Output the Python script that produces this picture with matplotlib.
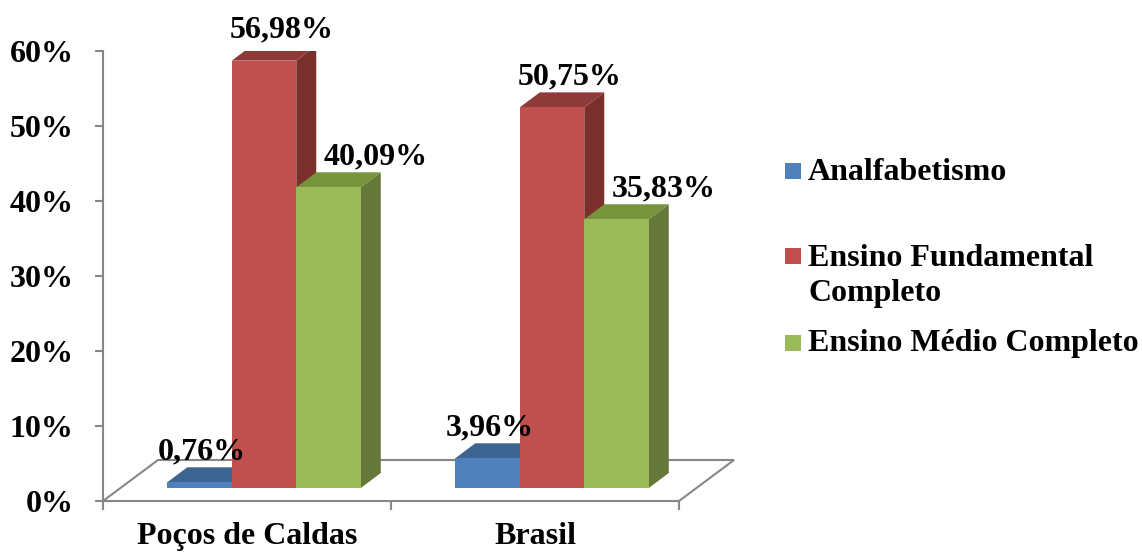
import matplotlib
matplotlib.use('Agg')
import matplotlib.pyplot as plt
from matplotlib.patches import Polygon, Rectangle

# dados
categories = ['Poços de Caldas', 'Brasil']
series = ['Analfabetismo', 'Ensino Fundamental\nCompleto', 'Ensino Médio Completo']
analfabetismo = [0.76, 3.96]
fundamental = [56.98, 50.75]
medio = [40.09, 35.83]
values = [analfabetismo, fundamental, medio]

# cores estilo Excel (frente, topo, lateral)
front = ['#4F81BD', '#C0504D', '#9BBB59']
top = ['#3D6591', '#8E3A38', '#77933C']
side = ['#34577E', '#7A2F2D', '#66793A']
gray = '#878787'

plt.rcParams['font.family'] = ['Liberation Serif', 'DejaVu Serif']
plt.rcParams['font.weight'] = 'bold'
fs = 23

W, H = 1142, 554
fig = plt.figure(figsize=(W / 100, H / 100), dpi=100)
ax = fig.add_axes([103 / W, 53 / H, 576 / W, 450 / H])
ax.set_xlim(0, 2)
ax.set_ylim(0, 60)

pxx = 2 / 576.0   # unidades por pixel (x)
pxy = 60 / 450.0  # unidades por pixel (y)

# profundidade do piso e das barras
fdx, fdy = 55 * pxx, 41 * pxy
bdx, bdy = 17 * pxx, 13 * pxy
ddx, ddy = 20 * pxx, 15 * pxy

floor = Polygon([(0, 0), (2, 0), (2 + fdx, fdy), (fdx, fdy)], closed=True,
                facecolor='white', edgecolor=gray, lw=1.5, clip_on=False, zorder=1)
ax.add_patch(floor)

bw = 0.224
label_dx = [2 * pxx, 18 * pxx, 47 * pxx]
z = 2
for i, cat in enumerate(categories):
    for j in range(len(series)):
        v = values[j][i]
        x0 = i + 0.5 - 1.5 * bw + j * bw + bdx
        x1 = x0 + bw
        y0 = bdy
        y1 = bdy + v
        ax.add_patch(Polygon([(x1, y0), (x1, y1), (x1 + ddx, y1 + ddy), (x1 + ddx, y0 + ddy)],
                             closed=True, facecolor=side[j], edgecolor='none', zorder=z))
        ax.add_patch(Polygon([(x0, y1), (x1, y1), (x1 + ddx, y1 + ddy), (x0 + ddx, y1 + ddy)],
                             closed=True, facecolor=top[j], edgecolor='none', zorder=z))
        ax.bar(x0, v, width=bw, bottom=y0, align='edge', color=front[j], zorder=z + 1)
        z += 2
        lbl = ('%.2f%%' % v).replace('.', ',')
        ax.text(x0 + bw / 2 + label_dx[j], y1 + ddy + 8 * pxy, lbl, ha='center',
                va='baseline', fontsize=fs, fontweight='bold', zorder=50)

# eixos
for s in ['top', 'right']:
    ax.spines[s].set_visible(False)
for s in ['left', 'bottom']:
    ax.spines[s].set_color(gray)
    ax.spines[s].set_linewidth(1.5)
    ax.spines[s].set_zorder(0.5)

ax.set_yticks(range(0, 61, 10))
ax.set_yticklabels(['%d%%' % t for t in range(0, 61, 10)])
ax.tick_params(axis='y', direction='out', length=6, width=1.5, color=gray,
               labelsize=fs, pad=15)
ax.set_xticks([0.5, 1.5])
ax.set_xticklabels(categories)
ax.set_xticks([0, 1, 2], minor=True)
ax.tick_params(axis='x', which='major', length=0, labelsize=fs, pad=15)
ax.tick_params(axis='x', which='minor', direction='out', length=6.5, width=1.5, color=gray)
for t in ax.get_xticklabels() + ax.get_yticklabels():
    t.set_fontweight('bold')

# legenda manual
def fx(px):
    return px / W

def fy(py):
    return 1 - py / H

sq_tops = [163, 248, 335]
txt_tops = [158, 244, 329]
for j, name in enumerate(series):
    fig.patches.append(Rectangle((fx(785), fy(sq_tops[j] + 16)), 16 / W, 16 / H,
                                 transform=fig.transFigure, facecolor=front[j],
                                 edgecolor='none'))
    fig.text(fx(808), fy(txt_tops[j]), name, ha='left', va='top', fontsize=fs,
             fontweight='bold', linespacing=1.25)

fig.savefig('out.png', dpi=100)
